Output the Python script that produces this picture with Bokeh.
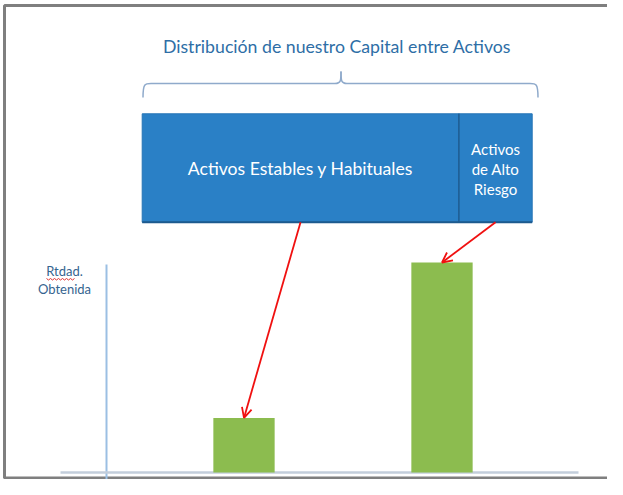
from bokeh.plotting import figure
from bokeh.models import Range1d, Label, Arrow, OpenHead
from bokeh.embed import file_html
from bokeh.resources import INLINE

# ---- data ----
title_text = "Distribución de nuestro Capital entre Activos"
asset_groups = ["Activos Estables y Habituales", "Activos\nde Alto\nRiesgo"]
capital_share = [81.2, 18.8]          # % of capital in each group
bar_positions = [1, 2]
returns_obtained = [26, 100]          # relative return obtained
ylabel_lines = ["Rtdad.", "Obtenida"]

# ---- layout (pixels of the reference) ----
W, H = 607, 479
SX, SY = 198.0, 2.1            # pixels per data unit
X_FIRST_BAR = 243.5            # x of first bar centre
Y_ZERO = 472.0                 # y of zero
x_start = bar_positions[0] - X_FIRST_BAR / SX
y_start = -(H - Y_ZERO) / SY
x_end = x_start + W / SX
y_end = y_start + H / SY


def dx(X):
    return x_start + X / SX


def dy(Y):
    return y_start + (H - Y) / SY


p = figure(width=W, height=H, output_backend="svg", toolbar_location=None,
           x_range=Range1d(x_start, x_end), y_range=Range1d(y_start, y_end),
           min_border=0, background_fill_color="white", border_fill_color="white")
p.axis.visible = False
p.grid.visible = False
p.outline_line_color = None

FONT = "Lato"

# outer border (top, left, bottom)
p.line([x_end + 1, dx(4), dx(4), x_end + 1],
       [dy(5), dy(5), dy(H - 1.5), dy(H - 1.5)],
       line_color="#7F7F7F", line_width=3)

# title
p.add_layout(Label(x=dx(336.5), y=dy(46), text=title_text, text_font=FONT,
                   text_font_size="17.7px", text_color="#2E6EA6",
                   text_align="center", text_baseline="middle"))

# brace
bc = "#8FAACB"
yb, yend, ytip = 83, 97, 71
xl, xr, xm = 142.5, 537.5, 340.5
p.bezier(x0=[dx(xl)], y0=[dy(yend)], x1=[dx(xl + 8)], y1=[dy(yb)],
         cx0=[dx(xl)], cy0=[dy(yb)], cx1=[dx(xl + 2)], cy1=[dy(yb)],
         line_color=bc, line_width=1.5)
p.bezier(x0=[dx(xr)], y0=[dy(yend)], x1=[dx(xr - 8)], y1=[dy(yb)],
         cx0=[dx(xr)], cy0=[dy(yb)], cx1=[dx(xr - 2)], cy1=[dy(yb)],
         line_color=bc, line_width=1.5)
p.line([dx(xl + 8), dx(xm - 6)], [dy(yb), dy(yb)], line_color=bc, line_width=1.5)
p.line([dx(xm + 6), dx(xr - 8)], [dy(yb), dy(yb)], line_color=bc, line_width=1.5)
p.bezier(x0=[dx(xm - 6)], y0=[dy(yb)], x1=[dx(xm)], y1=[dy(ytip)],
         cx0=[dx(xm)], cy0=[dy(yb)], cx1=[dx(xm)], cy1=[dy(yb - 3)],
         line_color=bc, line_width=1.5)
p.bezier(x0=[dx(xm + 6)], y0=[dy(yb)], x1=[dx(xm)], y1=[dy(ytip)],
         cx0=[dx(xm)], cy0=[dy(yb)], cx1=[dx(xm)], cy1=[dy(yb - 3)],
         line_color=bc, line_width=1.5)

# capital distribution box
box_left, box_width = dx(141.7), dx(531.7) - dx(141.7)
box_top, box_bottom = dy(113.3), dy(221.7)
lefts, rights = [], []
acc = box_left
for s in capital_share:
    lefts.append(acc)
    acc += box_width * s / sum(capital_share)
    rights.append(acc)
p.quad(left=lefts, right=rights, top=[box_top] * 2, bottom=[box_bottom] * 2,
       fill_color="#2A80C6", line_color="#2574B5", line_width=1)
p.line([rights[0], rights[0]], [box_top, box_bottom], line_color="#1E5E94", line_width=1.5)
p.line([box_left, rights[-1]], [box_bottom, box_bottom], line_color="#1D5A8E", line_width=2)

centres = [(l + r) / 2 for l, r in zip(lefts, rights)]
p.add_layout(Label(x=centres[0], y=dy(168), text=asset_groups[0], text_font=FONT,
                   text_font_size="17.6px", text_color="white",
                   text_align="center", text_baseline="middle"))
for i, line in enumerate(asset_groups[1].split("\n")):
    p.add_layout(Label(x=centres[1], y=dy(148 + 20 * i), text=line, text_font=FONT,
                       text_font_size="15px", text_color="white",
                       text_align="center", text_baseline="middle"))

# y label
for i, line in enumerate(ylabel_lines):
    p.add_layout(Label(x=dx(64), y=dy(270 + 18 * i), text=line, text_font=FONT,
                       text_font_size="13px", text_color="#35648F",
                       text_align="center", text_baseline="middle"))
# spell-check squiggle
sq_x = [dx(46 + 2 * k) for k in range(15)]
sq_y = [dy(278.5 + (1 if k % 2 else -0.5)) for k in range(15)]
p.line(sq_x, sq_y, line_color="#E03030", line_width=1)

# axes lines
p.line([dx(106), dx(106)], [dy(264), dy(488)], line_color="#9BBFE3", line_width=2)
p.line([dx(60), dx(578)], [0, 0], line_color="#C3CEDB", line_width=2.5)

# bars
p.vbar(x=bar_positions, top=returns_obtained, bottom=0, width=61.3 / SX,
       fill_color="#8CBC4F", line_color=None)

# arrows from each group to the return it produced
for c, bx, by in zip(centres, bar_positions, returns_obtained):
    p.add_layout(Arrow(end=OpenHead(size=10, line_color="#F01010", line_width=1.8),
                       x_start=c, y_start=box_bottom, x_end=bx, y_end=by,
                       line_color="#F01010", line_width=1.8))

open("out.html", "w").write(file_html(p, INLINE))
